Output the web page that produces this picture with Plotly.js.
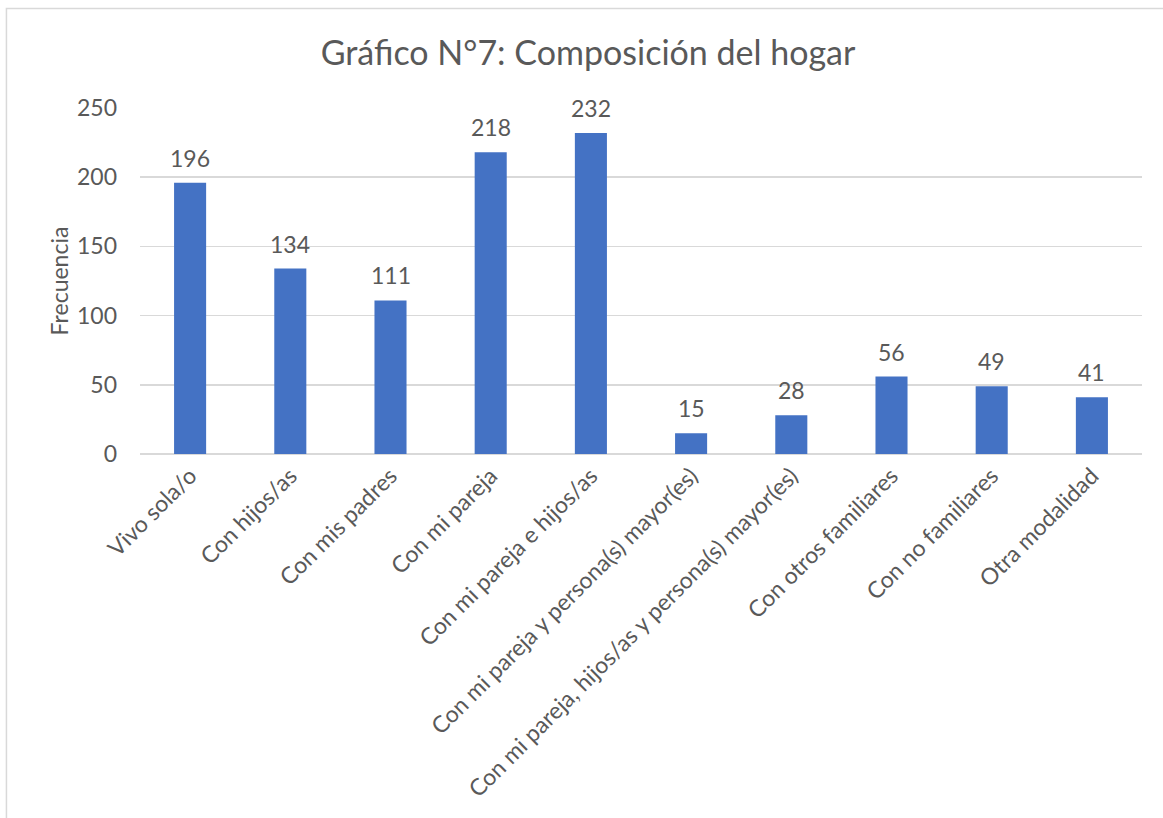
<!DOCTYPE html>
<html>
<head>
<meta charset="utf-8">
<script src="https://cdn.plot.ly/plotly-3.0.1.min.js"></script>
<style>
  html, body { margin: 0; padding: 0; background: #ffffff; }
  #chart { width: 1163px; height: 818px; }
</style>
</head>
<body>
<div id="chart"></div>
<script>
const categories = [
  "Vivo sola/o",
  "Con hijos/as",
  "Con mis padres",
  "Con mi pareja",
  "Con mi pareja e hijos/as",
  "Con mi pareja y persona(s) mayor(es)",
  "Con mi pareja, hijos/as y persona(s) mayor(es)",
  "Con otros familiares",
  "Con no familiares",
  "Otra modalidad"
];
const frecuencia = [196, 134, 111, 218, 232, 15, 28, 56, 49, 41];
const yTicks = [0, 50, 100, 150, 200, 250];

const FONT = "Lato, 'Open Sans', sans-serif";
const GREY = "#595959";

const trace = {
  type: "bar",
  x: categories,
  y: frecuencia,
  cliponaxis: false,
  marker: { color: "#4472C4" },
  hoverinfo: "x+y"
};

const labels = categories.map((c, i) => ({
  x: c,
  y: frecuencia[i],
  xref: "x", yref: "y",
  text: String(frecuencia[i]),
  showarrow: false,
  yanchor: "bottom",
  yshift: 9,
  font: { family: FONT, size: 23, color: GREY }
}));

const layout = {
  width: 1163,
  height: 818,
  margin: { l: 140, r: 21, t: 108, b: 364 },
  paper_bgcolor: "#ffffff",
  plot_bgcolor: "#ffffff",
  bargap: 0.68,
  showlegend: false,
  font: { family: FONT, color: GREY },
  title: {
    text: "Gráfico N°7: Composición del hogar",
    font: { family: FONT, size: 34, color: GREY },
    x: 0.5056, xref: "container", xanchor: "center",
    y: 0.935, yref: "container", yanchor: "middle"
  },
  xaxis: {
    type: "category",
    tickangle: -45,
    tickfont: { family: FONT, size: 23, color: GREY },
    showgrid: false,
    showline: false,
    zeroline: false,
    ticks: "",
    ticklabelstandoff: 3,
    automargin: false
  },
  yaxis: {
    range: [0, 250],
    tickvals: yTicks,
    ticktext: yTicks.map(String),
    tickfont: { family: FONT, size: 23, color: GREY },
    showgrid: true,
    gridcolor: "#D9D9D9",
    gridwidth: 1.5,
    zeroline: true,
    zerolinecolor: "#D9D9D9",
    zerolinewidth: 1.5,
    showline: false,
    ticks: "",
    ticklabelstandoff: 22,
    automargin: false,
    title: {
      text: "Frecuencia",
      font: { family: FONT, size: 23, color: GREY },
      standoff: 1
    }
  },
  annotations: labels,
  shapes: [{
    type: "rect",
    xref: "paper", yref: "paper",
    x0: -0.1333, x1: 1.05,
    y0: -1.1, y1: 1.2876,
    line: { color: "#D9D9D9", width: 1.5 },
    fillcolor: "rgba(0,0,0,0)",
    layer: "below"
  }]
};

Plotly.newPlot("chart", [trace], layout, { displayModeBar: false, staticPlot: true });
</script>
</body>
</html>
